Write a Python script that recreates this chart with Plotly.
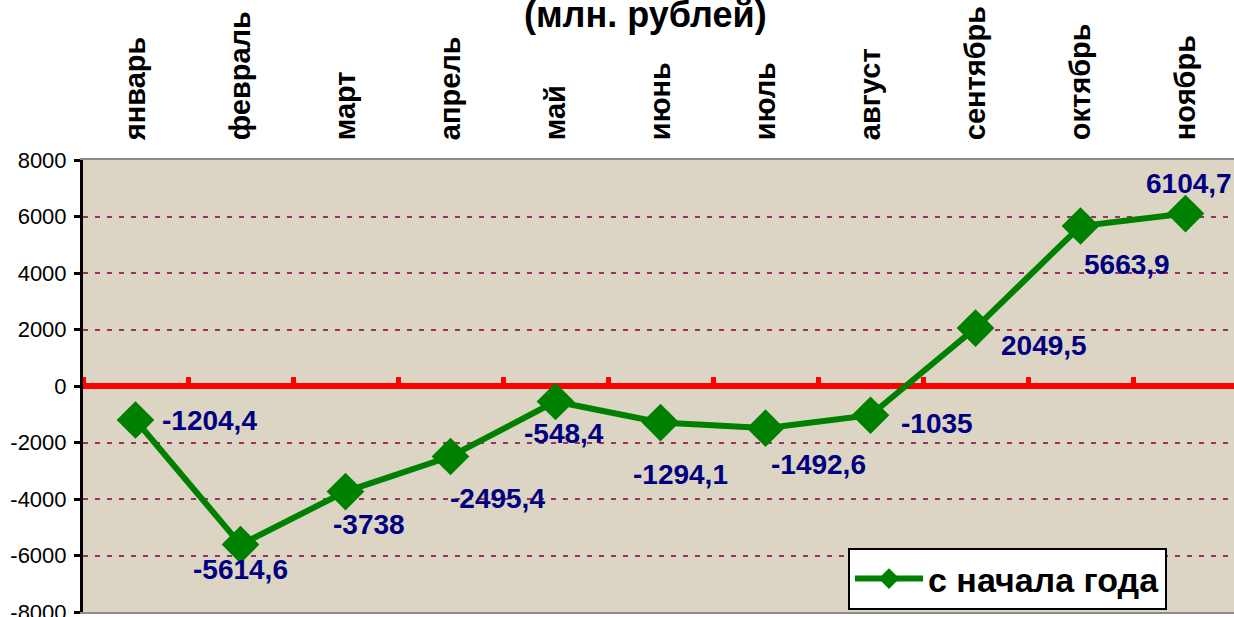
import plotly.graph_objects as go

months = ["январь", "февраль", "март", "апрель", "май", "июнь",
          "июль", "август", "сентябрь", "октябрь", "ноябрь"]
values = [-1204.4, -5614.6, -3738, -2495.4, -548.4, -1294.1,
          -1492.6, -1035, 2049.5, 5663.9, 6104.7]
value_labels = ["-1204,4", "-5614,6", "-3738", "-2495,4", "-548,4", "-1294,1",
                "-1492,6", "-1035", "2049,5", "5663,9", "6104,7"]
series_name = "с начала года"
title_text = "(млн. рублей)"
y_ticks = [-8000, -6000, -4000, -2000, 0, 2000, 4000, 6000, 8000]
y_tick_labels = ["-8000", "-6000", "-4000", "-2000", "0", "2000", "4000", "6000", "8000"]

# label offsets (px) relative to each marker - style only
label_dx = [74, 0, 23, 47, 8, 20, 53, 66, 68, 46, 3]
label_dy = [0, 25, 33, 42, 32, 52, 36, 8, 17, 39, -30]

FONT = "Arial, Liberation Sans, sans-serif"
GREEN = "#008000"
NAVY = "#000080"

W, H = 1234, 617
ML, MR, MT, MB = 83, 0, 160, 5
PW = W - ML - MR
PH = H - MT - MB
cat_px = 105.0
x_end = -0.5 + PW / cat_px

fig = go.Figure()

# invisible trace to activate the zero-crossing category axis
fig.add_trace(go.Scatter(x=[-0.5, len(months) - 0.5], y=[0, 0], xaxis="x2", yaxis="y",
                         mode="lines", line=dict(width=0), opacity=0,
                         showlegend=False, hoverinfo="skip"))

fig.add_trace(go.Scatter(
    x=months, y=values, name=series_name, mode="lines+markers",
    line=dict(color=GREEN, width=6),
    marker=dict(symbol="diamond", size=29, color=GREEN),
    hoverinfo="skip",
))

for m, v, t, dx, dy in zip(months, values, value_labels, label_dx, label_dy):
    fig.add_annotation(x=m, y=v, xref="x", yref="y", text=t, showarrow=False,
                       xshift=dx, yshift=-dy,
                       font=dict(family=FONT, size=28, color=NAVY, weight="bold"))

fig.add_annotation(x=(645 - ML) / PW, y=(H - MB - 14) / PH,
                   xref="paper", yref="paper", text=title_text, showarrow=False,
                   yanchor="middle", xanchor="center",
                   font=dict(family=FONT, size=36, color="black", weight="bold"))

fig.update_layout(
    width=W, height=H, autosize=False,
    margin=dict(l=ML, r=MR, t=MT, b=MB, pad=0, autoexpand=False),
    paper_bgcolor="white",
    plot_bgcolor="#DCD5C4",
    font=dict(family=FONT, color="black"),
    showlegend=True,
    legend=dict(x=(1167 - ML) / PW, xanchor="right", y=(612 - 610) / PH, yanchor="bottom",
                bgcolor="white", bordercolor="black", borderwidth=2,
                itemwidth=68, tracegroupgap=0,
                font=dict(family=FONT, size=34, color="black", weight="bold")),
    xaxis=dict(type="category", side="top", range=[-0.5, x_end], automargin=False,
               tickangle=-90, ticks="outside", ticklen=12, tickcolor="rgba(0,0,0,0)",
               tickfont=dict(family=FONT, size=29, color="black", weight="bold"),
               showgrid=False, showline=True, linecolor="#8C8C8C", linewidth=2,
               mirror=True, zeroline=False),
    xaxis2=dict(overlaying="x", anchor="free", position=0.5, side="top",
                range=[-0.5, x_end], tickmode="array", automargin=False,
                tickvals=[i - 0.5 for i in range(len(months) + 1)],
                showticklabels=False, ticks="outside", ticklen=6, tickwidth=5,
                tickcolor="#FF0000", showline=True, linecolor="#FF0000", linewidth=6,
                showgrid=False, zeroline=False, layer="below traces"),
    yaxis=dict(range=[-8000, 8000], tickmode="array", tickvals=y_ticks,
               ticktext=y_tick_labels, ticklabeloverflow="allow", automargin=False,
               ticklabelstandoff=3,
               tickfont=dict(family=FONT, size=22, color="black"),
               ticks="outside", ticklen=6, tickwidth=3, tickcolor="black",
               showline=True, linecolor="black", linewidth=3,
               showgrid=True, gridcolor="#993366", gridwidth=2, griddash="5px,7px",
               zeroline=False),
)

fig.write_html("out.html", config={"displayModeBar": False},
               post_script="document.body.style.margin='0';document.body.style.overflow='hidden';")
